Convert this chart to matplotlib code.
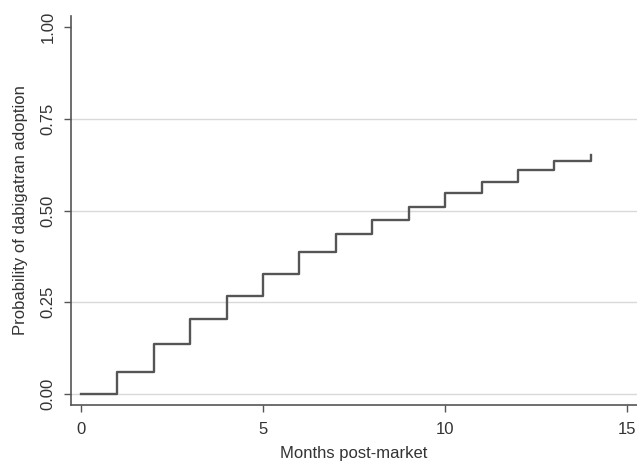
import matplotlib
matplotlib.use("Agg")
import matplotlib.pyplot as plt

months = [0, 1, 2, 3, 4, 5, 6, 7, 8, 9, 10, 11, 12, 13, 14]
adoption = [0.0, 0.060, 0.136, 0.204, 0.266, 0.326, 0.386, 0.435, 0.475,
            0.509, 0.547, 0.579, 0.611, 0.634, 0.652]
yticks = [0.0, 0.25, 0.50, 0.75, 1.00]
xticks = [0, 5, 10, 15]

plt.rcParams["font.family"] = ["Liberation Sans", "DejaVu Sans"]

fig = plt.figure(figsize=(6.37, 4.63), dpi=100)
ax = fig.add_axes([0.1115, 0.1253, 0.8885, 0.8401])

for y in yticks[:-1]:
    ax.axhline(y, color="#d9d9d9", linewidth=1.0, zorder=0)

ax.step(months, adoption, where="post", color="#555555", linewidth=1.7)

ax.set_xlim(-0.275, 15.27)
ax.set_ylim(-0.03, 1.03)
ax.set_xticks(xticks)
ax.set_yticks(yticks)
ax.set_yticklabels([f"{v:.2f}" for v in yticks], rotation=90, va="center")
ax.tick_params(axis="both", length=5, width=1, color="#555555", labelsize=12, labelcolor="#333333")
ax.tick_params(axis="x", pad=7)
ax.tick_params(axis="y", pad=6)

for side in ["top", "right"]:
    ax.spines[side].set_visible(False)
for side in ["left", "bottom"]:
    ax.spines[side].set_color("#555555")
    ax.spines[side].set_linewidth(1.2)

ax.set_xlabel("Months post-market", fontsize=12, color="#333333", labelpad=7)
ax.set_ylabel("Probability of dabigatran adoption", fontsize=12, color="#333333", labelpad=9)

fig.savefig("out.png", dpi=100)
